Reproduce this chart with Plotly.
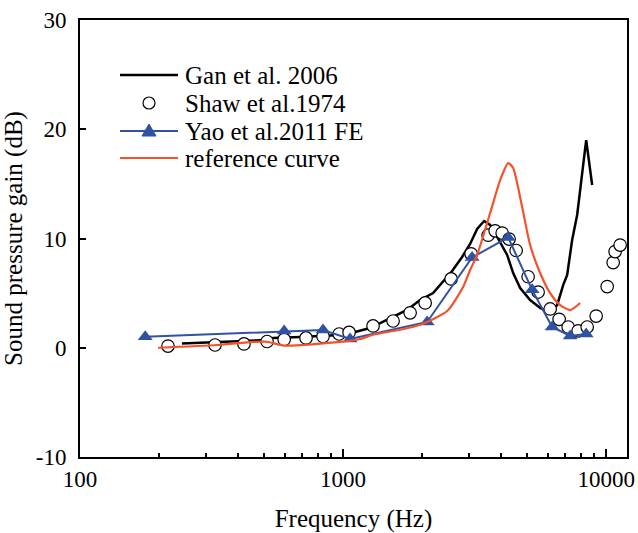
import numpy as np
import plotly.graph_objects as go

# ---- data ----
gan_f = [244, 514, 542, 686, 974, 1111, 1267, 1383, 1751, 1962, 2199, 2597, 2834, 3040, 3232, 3436,
         3622, 3851, 4204, 4431, 4710, 5141, 5611, 6125, 6512, 6863, 7108, 7424, 7757, 7962, 8395, 8847]
gan_g = [0.4, 0.7, 0.9, 0.98, 1.17, 1.44, 1.8, 2.27, 3.46, 4.37, 5.0, 7.03, 8.31, 9.5, 10.87, 11.6,
         11.24, 10.14, 8.5, 6.84, 5.47, 4.37, 3.64, 3.18, 3.91, 5.74, 6.66, 9.86, 12.15, 14.4, 19.0, 14.9]

shaw_f = [216, 326, 420, 514, 597, 723, 839, 966, 1054, 1300, 1549, 1798, 2051, 2574, 3067, 3559,
          3784, 4024, 4276, 4548, 5051, 5513, 6125, 6626, 7170, 7826, 8469, 9161, 10088, 10632, 10815, 11300]
shaw_g = [0.15, 0.25, 0.35, 0.57, 0.76, 0.9, 1.03, 1.26, 1.4, 2.0, 2.45, 3.2, 4.1, 6.3, 8.6, 10.3,
          10.7, 10.5, 9.95, 8.9, 6.5, 5.1, 3.55, 2.6, 1.9, 1.55, 1.9, 2.9, 5.6, 7.8, 8.8, 9.4]

yao_f = [177, 597, 839, 1063, 2087, 3093, 4241, 5232, 6232, 7300, 8395]
yao_g = [1.0, 1.53, 1.62, 0.8, 2.36, 8.26, 10.1, 5.3, 1.9, 1.08, 1.26]

ref_f = [198, 332, 455, 514, 597, 974, 1161, 1300, 1647, 1962, 2486, 2859, 3040, 3232, 3622, 3954,
         4241, 4431, 4793, 5141, 5611, 6125, 6685, 7300, 7962]
ref_g = [0.0, 0.25, 0.53, 0.55, 0.2, 0.53, 0.8, 1.19, 1.65, 2.1, 3.36, 5.56, 7.12, 8.49, 12.33, 15.35,
         16.9, 16.45, 12.88, 9.4, 6.84, 5.0, 3.91, 3.45, 4.1]

series_names = ["Gan et al. 2006", "Shaw et al.1974", "Yao et al.2011 FE", "reference curve"]

x_tick_vals = [100, 1000, 10000]
x_tick_text = ["100", "1000", "10000"]
y_tick_vals = [-10, 0, 10, 20, 30]
y_tick_text = ["-10", "0", "10", "20", "30"]

BLUE = "#2F52A3"
RED = "#F5512A"
FONT = "'Liberation Serif', 'Times New Roman', 'DejaVu Serif', serif"

W, H = 638, 533
ML, MR, MT, MB = 80, 11, 20, 76
PW, PH = W - ML - MR, H - MT - MB


def px_x(p):
    return (p - ML) / PW


def px_y(p):
    return (H - MB - p) / PH


fig = go.Figure()
fig.add_trace(go.Scatter(x=gan_f, y=gan_g, mode="lines", name=series_names[0],
                         line=dict(color="black", width=2.5)))
fig.add_trace(go.Scatter(x=shaw_f, y=shaw_g, mode="markers", name=series_names[1],
                         marker=dict(symbol="circle", size=12.5, color="white",
                                     line=dict(color="black", width=1.2))))
fig.add_trace(go.Scatter(x=yao_f, y=yao_g, mode="lines+markers", name=series_names[2],
                         line=dict(color=BLUE, width=2),
                         marker=dict(symbol="triangle-up", size=13, color=BLUE)))
fig.add_trace(go.Scatter(x=ref_f, y=ref_g, mode="lines", name=series_names[3],
                         line=dict(color=RED, width=2.2, shape="spline", smoothing=0.6)))

# ---- hand-built legend (longer line samples, tighter rows as in the reference) ----
shapes = []
annotations = []
row_y = [75, 103, 131, 158]
line_styles = [("black", 2.5), None, (BLUE, 2), (RED, 2.2)]
for i, name in enumerate(series_names):
    yy = px_y(row_y[i])
    if line_styles[i] is not None:
        c, w = line_styles[i]
        shapes.append(dict(type="line", xref="paper", yref="paper",
                           x0=px_x(120), x1=px_x(178), y0=yy, y1=yy,
                           line=dict(color=c, width=w)))
    annotations.append(dict(text=name, xref="paper", yref="paper", x=px_x(183), y=yy,
                            xanchor="left", yanchor="middle", showarrow=False,
                            font=dict(family=FONT, size=25, color="black")))
# circle marker sample
shapes.append(dict(type="circle", xref="paper", yref="paper",
                   xsizemode="pixel", ysizemode="pixel",
                   xanchor=px_x(149), yanchor=px_y(row_y[1]),
                   x0=-6, x1=6, y0=-6, y1=6,
                   fillcolor="white", line=dict(color="black", width=1.2)))
# triangle marker sample
shapes.append(dict(type="path", xref="paper", yref="paper",
                   xsizemode="pixel", ysizemode="pixel",
                   xanchor=px_x(149), yanchor=px_y(row_y[2]),
                   path="M-7,-5 L7,-5 L0,7 Z",
                   fillcolor=BLUE, line=dict(color=BLUE, width=1)))

minor_vals = [m * 10 ** e for e in (2, 3) for m in range(2, 10)]

fig.update_layout(
    width=W, height=H,
    margin=dict(l=ML, r=MR, t=MT, b=MB),
    plot_bgcolor="white", paper_bgcolor="white",
    font=dict(family=FONT, size=22, color="black"),
    showlegend=False,
    shapes=shapes,
    annotations=annotations,
)
fig.update_xaxes(
    type="log", range=[2, np.log10(12000)],
    tickvals=x_tick_vals, ticktext=x_tick_text,
    ticks="inside", ticklen=8, tickwidth=1.5, tickcolor="black",
    minor=dict(ticks="inside", ticklen=4, tickwidth=1.5, tickcolor="black", tickvals=minor_vals),
    showline=True, linewidth=2, linecolor="black", mirror=True,
    showgrid=False, zeroline=False, automargin=False,
    ticklabelstandoff=0,
    tickfont=dict(family=FONT, size=23),
    title=dict(text="Frequency (Hz)", font=dict(family=FONT, size=25), standoff=19),
)
fig.update_yaxes(
    range=[-10, 30],
    tickvals=y_tick_vals, ticktext=y_tick_text,
    ticks="inside", ticklen=6, tickwidth=1.5, tickcolor="black",
    showline=True, linewidth=2, linecolor="black", mirror=True,
    showgrid=False, zeroline=False, automargin=False,
    ticklabelstandoff=7,
    tickfont=dict(family=FONT, size=23),
    title=dict(text="Sound pressure gain (dB)", font=dict(family=FONT, size=25), standoff=10),
)

fig.write_html("out.html")
